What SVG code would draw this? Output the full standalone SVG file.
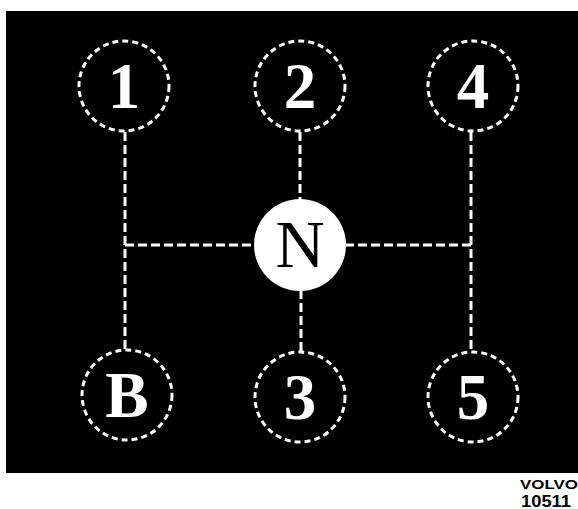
<svg xmlns="http://www.w3.org/2000/svg" width="578" height="509" viewBox="0 0 578 509">
<style>
.ring{fill:none;stroke:#fff;stroke-width:3;stroke-dasharray:6 4}
.lbl{font-family:"Liberation Serif","Times New Roman",serif;font-weight:bold;font-size:65px;fill:#fff;text-anchor:middle}
.conn line{stroke:#fff;stroke-width:3;stroke-dasharray:9 4}
</style>
<rect x="0" y="0" width="578" height="509" fill="#fff"/>
<rect x="6" y="11" width="572" height="462" fill="#000"/>
<g class="conn" id="connectors">
<line x1="125" y1="132" x2="125" y2="351"/>
<line x1="471" y1="132" x2="471" y2="351"/>
<line x1="300" y1="132" x2="300" y2="200"/>
<line x1="301" y1="290" x2="301" y2="352"/>
<line x1="125" y1="245" x2="255" y2="245"/>
<line x1="345" y1="245" x2="471" y2="245"/>
</g>
<g id="g1"><circle class="ring" cx="124" cy="86" r="45"/><text class="lbl" x="124" y="108">1</text></g>
<g id="g2"><circle class="ring" cx="300" cy="86" r="45"/><text class="lbl" x="300" y="108">2</text></g>
<g id="g4"><circle class="ring" cx="473" cy="86" r="45"/><text class="lbl" x="473" y="108">4</text></g>
<g id="gB"><circle class="ring" cx="127" cy="395" r="45"/><text class="lbl" x="127" y="417">B</text></g>
<g id="g3"><circle class="ring" cx="300" cy="397" r="45"/><text class="lbl" x="300" y="419">3</text></g>
<g id="g5"><circle class="ring" cx="473" cy="397" r="45"/><text class="lbl" x="473" y="419">5</text></g>
<g id="gN"><circle cx="300" cy="245" r="46" fill="#fff"/><text x="300" y="267" font-family="Liberation Serif, serif" font-size="68" text-anchor="middle" fill="#000">N</text></g>
<g id="caption" font-family="Liberation Sans, Arial, sans-serif" font-weight="bold" fill="#000">
<text x="520" y="489" font-size="12" textLength="58" lengthAdjust="spacingAndGlyphs">VOLVO</text>
<text x="521" y="507" font-size="16" textLength="50" lengthAdjust="spacingAndGlyphs">10511</text>
</g>
</svg>
